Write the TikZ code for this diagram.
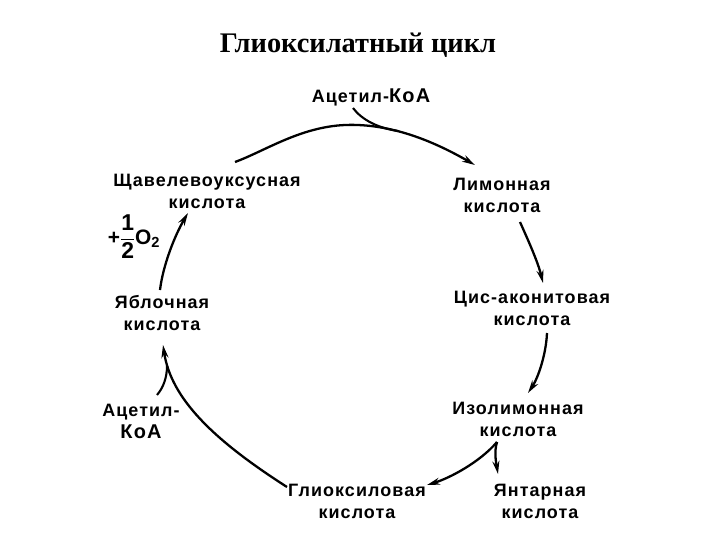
\documentclass[tikz,border=0pt]{standalone}
\usepackage{amsmath}
\usepackage{fontspec}
\setmainfont{Liberation Serif}
\newfontfamily\labfont{Liberation Sans}[LetterSpace=6.0]
\usetikzlibrary{arrows.meta}
\newcommand{\bdig}[1]{\text{\labfont\bfseries\fontsize{23}{24}\selectfont #1}}
\begin{document}
\begin{tikzpicture}[x=1bp,y=-1bp,
  lab/.style={font=\labfont\bfseries\fontsize{18}{22}\selectfont,align=center,inner sep=0pt},
  arr/.style={line width=2.3pt,-{Stealth[length=13pt,width=7pt]}},
  joinline/.style={line width=2.1pt}]
\useasboundingbox (0,0) rectangle (720,540);
\fill[white] (0,0) rectangle (720,540);
\node[font=\bfseries\fontsize{28.5}{32}\selectfont] (title) at (358,45) {Глиоксилатный цикл};
\node[lab] (acT) at (371,97) {Ацетил-{\fontsize{20}{22}\selectfont КоА}};
\node[lab] (oxa) at (207,191) {Щавелевоуксусная\\кислота};
\node[lab] (limon) at (502,195) {Лимонная\\кислота};
\node[lab] (cis) at (532,308) {Цис-аконитовая\\кислота};
\node[lab] (iso) at (518,419) {Изолимонная\\кислота};
\node[lab] (yant) at (540,501) {Янтарная\\кислота};
\node[lab] (glyox) at (357,501) {Глиоксиловая\\кислота};
\node[lab] (acL) at (141,421) {Ацетил-\\{\fontsize{20}{22}\selectfont КоА}};
\node[lab] (apple) at (162,313) {Яблочная\\кислота};
\node[lab,font=\labfont\bfseries\fontsize{21}{24}\selectfont] (otwo) at (134,237) {+$\dfrac{\bdig{1}}{\bdig{2}}$O\textsubscript{2}};
% connectors
\draw[arr] ([shift={(28,-29)}]oxa.center) .. controls (265,151) and (300,127) .. (345,125) .. controls (395,123) and (440,145) .. ([shift={(-27,-30)}]limon.center);
\draw[joinline] ([shift={(-18,11)}]acT.center) .. controls (362,120) and (378,128) .. (398,131);
\draw[arr] ([shift={(18,27)}]limon.center) .. controls (528,240) and (538,262) .. ([shift={(11,-25)}]cis.center);
\draw[arr] ([shift={(15,25)}]cis.center) .. controls (546,355) and (538,378) .. ([shift={(10,-26)}]iso.center);
\draw[arr] ([shift={(-21,23)}]iso.center) .. controls (480,462) and (450,478) .. ([shift={(70,-16)}]glyox.center);
\draw[arr] ([shift={(-21,23)}]iso.center) .. controls (494,452) and (496,462) .. ([shift={(-42,-27)}]yant.center);
\draw[arr] ([shift={(-70,-14)}]glyox.center) .. controls (212,439) and (171,398) .. ([shift={(1,32)}]apple.center);
\draw[joinline] ([shift={(16,-26)}]acL.center) .. controls (163,388) and (167,378) .. (167,366);
\draw[arr] ([shift={(-2,-23)}]apple.center) .. controls (163,265) and (175,235) .. ([shift={(-19,22)}]oxa.center);
\end{tikzpicture}
\end{document}
